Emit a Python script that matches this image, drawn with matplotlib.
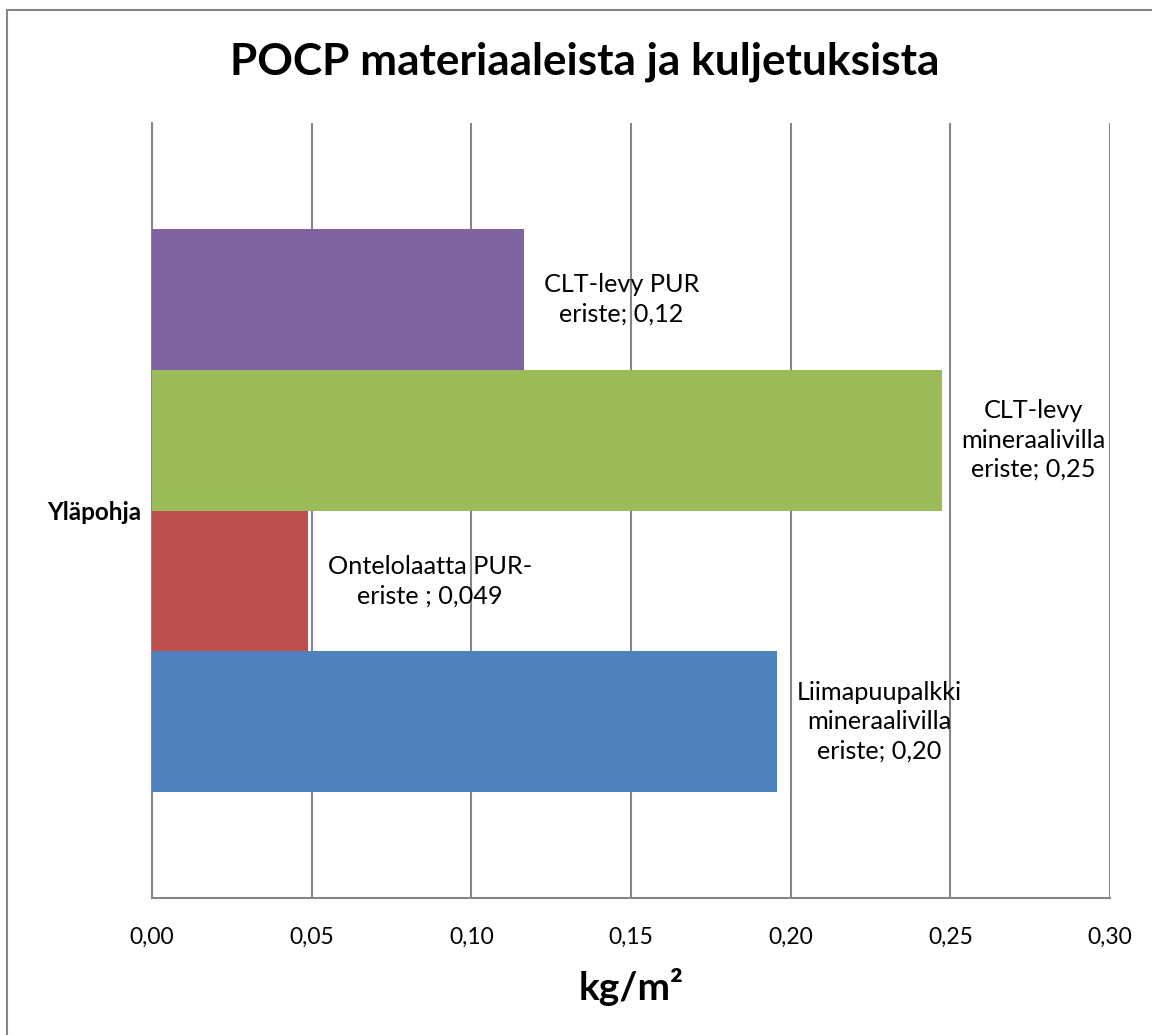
import matplotlib
matplotlib.use("Agg")
import matplotlib.pyplot as plt
from matplotlib.patches import Rectangle

# ---- data ----
category = "Yläpohja"
series_labels = [
    "Liimapuupalkki\nmineraalivilla\neriste; 0,20",
    "Ontelolaatta PUR-\neriste ; 0,049",
    "CLT-levy\nmineraalivilla\neriste; 0,25",
    "CLT-levy PUR\neriste; 0,12",
]
series_values = [0.1957, 0.0490, 0.2474, 0.1166]
series_colors = ["#4F81BD", "#C0504D", "#9BBB59", "#8064A2"]
x_ticks = [0.00, 0.05, 0.10, 0.15, 0.20, 0.25, 0.30]
x_tick_labels = ["0,00", "0,05", "0,10", "0,15", "0,20", "0,25", "0,30"]
title = "POCP materiaaleista ja kuljetuksista"
x_label = "kg/m²"

plt.rcParams['font.family'] = ['Lato', 'DejaVu Sans']

W, H = 1152, 1035
fig = plt.figure(figsize=(W / 100, H / 100), dpi=100)
fig.patch.set_facecolor("white")

# outer chart border (extends beyond right/bottom edge)
fig.patches.append(Rectangle((7 / W, -0.05), 1.1, 1 - 10 / H + 0.05,
                             transform=fig.transFigure, fill=False,
                             edgecolor="#868686", linewidth=1.5))

left, right, top, bottom = 152, 1110, 123, 898
ax = fig.add_axes([left / W, 1 - bottom / H, (right - left) / W, (bottom - top) / H])

n = len(series_values)
gap = 1.5
bw = 1.0 / (n + gap)
for i, (v, c, lab) in enumerate(zip(series_values, series_colors, series_labels)):
    yc = -0.5 + (gap / 2 + i + 0.5) * bw
    ax.barh(yc, v, height=bw, color=c, zorder=3)
    ax.annotate(lab, xy=(v, yc), xytext=(14, 0), textcoords="offset points",
                ha="left", va="center", multialignment="center",
                fontsize=18.2, color="black", linespacing=1.33, zorder=5)

ax.set_xlim(0, 0.30)
ax.set_ylim(-0.5, 0.5)
ax.set_xticks(x_ticks)
ax.set_xticklabels(x_tick_labels, fontsize=16.5)
ax.set_yticks([0])
ax.set_yticklabels([category], fontsize=17.5, fontweight="bold")
ax.tick_params(axis="x", length=0, pad=21)
ax.tick_params(axis="y", length=0, pad=8)
ax.grid(axis="x", color="#868686", linewidth=1.5, zorder=0)
ax.set_axisbelow(True)
for s in ["top", "right"]:
    ax.spines[s].set_visible(False)
for s in ["left", "bottom"]:
    ax.spines[s].set_color("#868686")
    ax.spines[s].set_linewidth(1.5)

ax.set_xlabel(x_label, fontsize=28, fontweight="bold", labelpad=14)
fig.text(585 / W, 1 - 62 / H, title, ha="center", va="center",
         fontsize=31.8, fontweight="bold")

fig.savefig("out.png", dpi=100, facecolor="white")
